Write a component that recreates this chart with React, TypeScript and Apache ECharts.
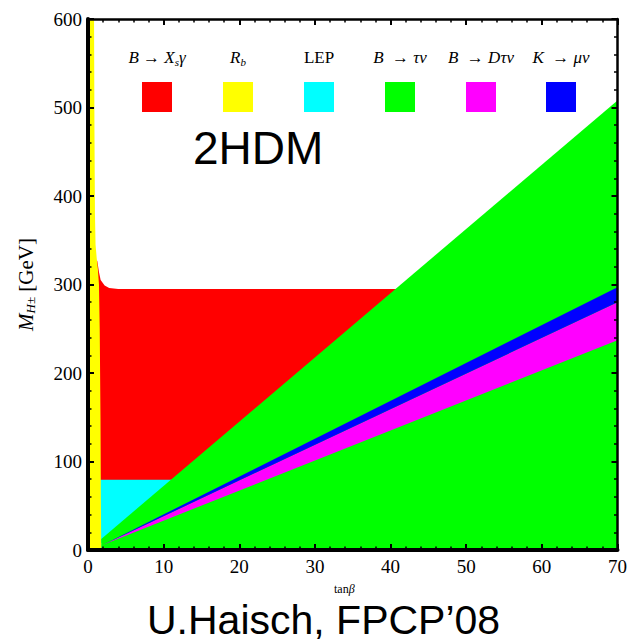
import React, { useEffect, useRef } from "react";
import * as echarts from "echarts";

// tanβ (x) and M_H± in GeV (y) outlines of the excluded regions
const rbX = [0, 1.75, 1.7, 1.65, 1.55, 1.45, 1.3, 1.15, 1.0, 0.92, 0.85, 0.8, 0];
const rbY = [0, 0, 60, 150, 250, 300, 318, 330, 345, 380, 480, 600, 600];

const bsgX = [1.4, 1.3, 1.15, 1.22, 1.45, 1.67, 2.2, 2.8, 4.0, 40.9, 11.3];
const bsgY = [78, 300, 325, 327, 314, 305, 299, 296, 295, 295, 78];

const lepX = [1.4, 11.3, 1.8, 1.4];
const lepY = [79.5, 79.5, 8, 8];

const btnX = [1.75, 70, 70, 1.75];
const btnY = [12.5, 508, 0, 0];

const bdtnX = [2.0, 70, 70];
const bdtnY = [6, 280, 237];

const kmnX = [2.0, 70, 70];
const kmnY = [6, 297, 280];

const xTicks = [0, 10, 20, 30, 40, 50, 60, 70];
const yTicks = [0, 100, 200, 300, 400, 500, 600];

const legendNames = ["bsg", "rb", "lep", "btn", "bdtn", "kmn"];
const legendLabels = [
  "{i|B → X}{s|s}{i|γ}",
  "{i|R}{s|b}",
  "{u|LEP}",
  "{i|B  → τν}",
  "{i|B  → Dτν}",
  "{i|K  → μν}",
];
const colors: Record<string, string> = {
  rb: "#ffff00",
  bsg: "#ff0000",
  lep: "#00ffff",
  btn: "#00ff00",
  bdtn: "#ff00ff",
  kmn: "#0000ff",
};

const serif = "'Liberation Serif', 'Times New Roman', serif";
const sans = "'Liberation Sans', Arial, sans-serif";

function poly(name: string, xs: number[], ys: number[]) {
  return {
    type: "custom",
    name,
    silent: true,
    xAxisIndex: 0,
    yAxisIndex: 0,
    data: [[xs[0], ys[0]]],
    renderItem: (_params: any, api: any) => ({
      type: "polygon",
      shape: { points: xs.map((x, i) => api.coord([x, ys[i]])) },
      style: { fill: colors[name], stroke: null },
    }),
  };
}

export default function App() {
  const ref = useRef<HTMLDivElement>(null);
  useEffect(() => {
    if (!ref.current) return;
    const chart = echarts.init(ref.current, undefined, { renderer: "svg" });
    const gl = { left: 88, top: 19, width: 532, height: 531 };
    const axisCommon = {
      type: "value",
      z: 10,
      splitLine: { show: false },
      axisTick: { show: true, inside: true, length: 6, lineStyle: { color: "#000", width: 2 } },
      minorTick: { show: true, splitNumber: 5, length: 3.5, lineStyle: { color: "#000", width: 1.5 } },
    };
    const legendGraphics: any[] = [];
    const boxX = [142, 223, 304, 385, 466, 546];
    legendNames.forEach((n, i) => {
      legendGraphics.push({
        type: "rect",
        shape: { x: boxX[i], y: 82, width: 30, height: 30 },
        style: { fill: colors[n] },
        z: 20,
      });
      legendGraphics.push({
        type: "text",
        x: boxX[i] + 15,
        y: 57,
        z: 20,
        style: {
          text: legendLabels[i],
          align: "center",
          verticalAlign: "middle",
          rich: {
            i: { fontFamily: serif, fontStyle: "italic", fontSize: 17, fill: "#000" },
            u: { fontFamily: serif, fontSize: 17, fill: "#000" },
            s: { fontFamily: serif, fontStyle: "italic", fontSize: 11, fill: "#000", padding: [9, 0, 0, 0] },
          },
        },
      });
    });
    chart.setOption({
      animation: false,
      backgroundColor: "#fff",
      grid: { ...gl, containLabel: false },
      xAxis: [
        {
          ...axisCommon,
          position: "bottom",
          min: 0,
          max: 70,
          interval: 10,
          axisLine: { show: true, onZero: false, lineStyle: { color: "#000", width: 4 } },
          axisLabel: {
            show: true,
            margin: 7,
            fontFamily: serif,
            fontSize: 19,
            color: "#000",
            formatter: (v: number) => (xTicks.includes(v) ? String(v) : ""),
          },
        },
        {
          ...axisCommon,
          position: "top",
          min: 0,
          max: 70,
          interval: 10,
          axisLine: { show: true, onZero: false, lineStyle: { color: "#000", width: 2.5 } },
          axisLabel: { show: false },
        },
      ],
      yAxis: [
        {
          ...axisCommon,
          position: "left",
          min: 0,
          max: 600,
          interval: 100,
          axisLine: { show: true, onZero: false, lineStyle: { color: "#000", width: 4 } },
          axisLabel: {
            show: true,
            margin: 6,
            fontFamily: serif,
            fontSize: 19,
            color: "#000",
            formatter: (v: number) => (yTicks.includes(v) ? String(v) : ""),
          },
          name: "{i|M}{s|H±} [GeV]",
          nameLocation: "middle",
          nameRotate: 90,
          nameGap: 51,
          nameTextStyle: {
            fontFamily: serif,
            fontSize: 21,
            color: "#000",
            rich: {
              i: { fontFamily: serif, fontStyle: "italic", fontSize: 21, color: "#000" },
              s: { fontFamily: serif, fontStyle: "italic", fontSize: 13, color: "#000", padding: [10, 0, 0, 0] },
            },
          },
        },
        {
          ...axisCommon,
          position: "right",
          min: 0,
          max: 600,
          interval: 100,
          axisLine: { show: true, onZero: false, lineStyle: { color: "#000", width: 2.5 } },
          axisLabel: { show: false },
        },
      ],
      series: [
        poly("bsg", bsgX, bsgY),
        poly("lep", lepX, lepY),
        poly("rb", rbX, rbY),
        poly("btn", btnX, btnY),
        poly("bdtn", bdtnX, bdtnY),
        poly("kmn", kmnX, kmnY),
      ],
      graphic: [
        ...legendGraphics,
        {
          type: "text",
          x: 193,
          y: 148,
          z: 20,
          style: { text: "2HDM", font: `46px ${sans}`, fill: "#000", verticalAlign: "middle" },
        },
        {
          type: "text",
          x: 334,
          y: 589,
          z: 20,
          style: {
            text: "tan{i|β}",
            font: `12px ${serif}`,
            fill: "#000",
            verticalAlign: "middle",
            rich: { i: { fontFamily: serif, fontStyle: "italic", fontSize: 12, fill: "#000" } },
          },
        },
        {
          type: "text",
          x: 147,
          y: 620,
          z: 20,
          style: { text: "U.Haisch, FPCP’08", font: `41px ${sans}`, fill: "#000", verticalAlign: "middle" },
        },
      ],
    });
    return () => chart.dispose();
  }, []);
  return (
    <div
      ref={ref}
      style={{ position: "fixed", left: 0, top: 0, width: 630, height: 642 }}
    />
  );
}
